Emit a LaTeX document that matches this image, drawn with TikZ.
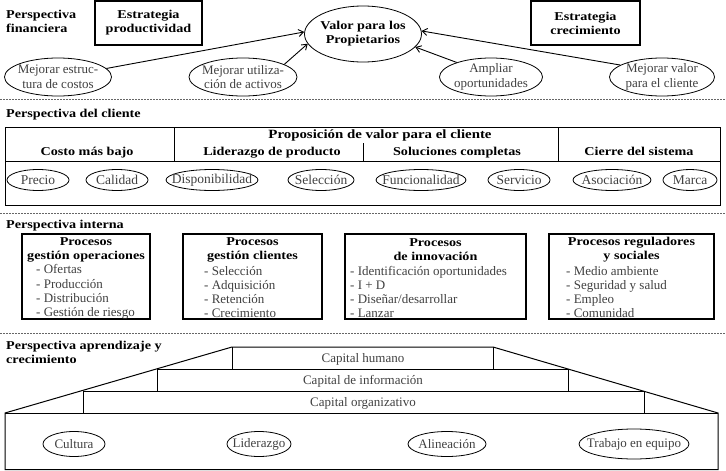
\documentclass[tikz,border=0pt]{standalone}
\usepackage{fontspec}
\setmainfont{Liberation Serif}[BoldFeatures={FakeStretch=1.18}]
\usetikzlibrary{shapes.geometric,arrows.meta}
\tikzset{
 ttl/.style={font=\fontsize{12}{14}\selectfont\bfseries, inner sep=0pt, align=center},
 btl/.style={ttl, anchor=base},
 hdr/.style={ttl, anchor=west, align=left},
 txt/.style={font=\fontsize{13}{14.5}\selectfont, text=black!75, inner sep=0pt, align=center},
 btxt/.style={txt, anchor=base},
 ctxt/.style={font=\fontsize{13.5}{14.5}\selectfont, text=black!75, inner sep=0pt, align=center},
 lst/.style={font=\fontsize{13}{14.2}\selectfont, text=black!75, inner sep=0pt, align=left, anchor=west},
 ell/.style={ellipse, draw, line width=0.8pt, inner sep=0pt},
 sbox/.style={draw, line width=1.6pt, inner sep=0pt},
 pbox/.style={draw, line width=2pt, inner sep=0pt},
 sepline/.style={line width=0.8pt, black!60, dash pattern=on 1.6pt off 1.4pt},
 arr/.style={-{Straight Barb[length=5pt,width=7pt]}, line width=0.9pt},
 frame/.style={line width=1pt},
}
\begin{document}
\begin{tikzpicture}[x=1pt,y=-1pt]
\useasboundingbox (0,0) rectangle (726,471);
% separators
\draw[sepline] (0,99) -- (726,99);
\draw[sepline] (0,213) -- (726,213);
\draw[sepline] (0,333) -- (726,333);

% ---------- Financial perspective
\node[hdr] (hfin) at (6,21) {Perspectiva\\financiera};
\node[sbox, ttl, minimum width=107, minimum height=44] (ep) at (148.5,23) {Estrategia\\productividad};
\node[sbox, ttl, minimum width=109, minimum height=44] (ec) at (585.5,23) {Estrategia\\crecimiento};
\node[ell, minimum width=117, minimum height=56, label={[ttl]center:Valor para los\\Propietarios}] (valor) at (363,34) {};
\node[ell, minimum width=107, minimum height=38, label={[txt]center:Mejorar estruc-\\tura de costos}] (mec) at (58,77) {};
\node[ell, minimum width=108, minimum height=38, label={[txt]center:Mejorar utiliza-\\ción de activos}] (mua) at (243,77) {};
\node[ell, minimum width=103, minimum height=38, label={[txt]center:Ampliar\\oportunidades}] (ao) at (491,77) {};
\node[ell, minimum width=105, minimum height=38, label={[txt]center:Mejorar valor\\para el cliente}] (mvc) at (662,77) {};
\draw[arr] (mec.10) -- (valor.178);
\draw[arr] (mua.17) -- (valor.190);
\draw[arr] (ao.157) -- (valor.346);
\draw[arr] (mvc.164) -- (valor.3);

% ---------- Customer perspective
\node[hdr] (hcli) at (6,115) {Perspectiva del cliente};
\draw[frame] (5,127) rectangle (720,205);
\draw[frame] (5,161) -- (720,161);
\draw[frame] (174,127) -- (174,161);
\draw[frame] (558,127) -- (558,161);
\draw[frame] (363,143) -- (363,161);
\node[btl, font=\fontsize{12.6}{14}\selectfont\bfseries] (prop) at (380,138) {Proposición de valor para el cliente};
\node[btl] (costo) at (87,155) {Costo más bajo};
\node[btl] (lider) at (272,155) {Liderazgo de producto};
\node[btl] (soluc) at (457,155) {Soluciones completas};
\node[btl] (cierre) at (639,155) {Cierre del sistema};
\node[ell, minimum width=62, minimum height=21, label={[ctxt]center:Precio}] (e1) at (38,180) {};
\node[ell, minimum width=62, minimum height=21, label={[ctxt]center:Calidad}] (e2) at (117,180) {};
\node[ell, minimum width=92, minimum height=21, label={[ctxt]center:Disponibilidad}] (e3) at (212,180) {};
\node[ell, minimum width=66, minimum height=21, label={[ctxt]center:Selección}] (e4) at (321,180) {};
\node[ell, minimum width=90, minimum height=21, label={[ctxt]center:Funcionalidad}] (e5) at (421,180) {};
\node[ell, minimum width=62, minimum height=21, label={[ctxt]center:Servicio}] (e6) at (519,180) {};
\node[ell, minimum width=78, minimum height=21, label={[ctxt]center:Asociación}] (e7) at (612,180) {};
\node[ell, minimum width=54, minimum height=21, label={[ctxt]center:Marca}] (e8) at (690,180) {};

% ---------- Internal perspective
\node[hdr] (hint) at (6,226) {Perspectiva interna};
\node[pbox, minimum width=128, minimum height=85] (p1) at (86,276.5) {};
\node[pbox, minimum width=139, minimum height=85] (p2) at (252.5,276.5) {};
\node[pbox, minimum width=181, minimum height=85] (p3) at (435.5,276.5) {};
\node[pbox, minimum width=165, minimum height=85] (p4) at (631.5,276.5) {};
\node[ttl] (p1t) at (86,250) {Procesos\\gestión operaciones};
\node[ttl] (p2t) at (252.5,250) {Procesos\\gestión clientes};
\node[ttl] (p3t) at (435.5,250) {Procesos\\de innovación};
\node[ttl] (p4t) at (631.5,250) {Procesos reguladores\\y sociales};
\node[lst] (p1l) at (36,292) {- Ofertas\\- Producción\\- Distribución\\- Gestión de riesgo};
\node[lst] (p2l) at (204,292) {- Selección\\- Adquisición\\- Retención\\- Crecimiento};
\node[lst] (p3l) at (350,292) {- Identificación oportunidades\\- I + D\\- Diseñar/desarrollar\\- Lanzar};
\node[lst] (p4l) at (566,292) {- Medio ambiente\\- Seguridad y salud\\- Empleo\\- Comunidad};

% ---------- Learning and growth perspective
\node[hdr] (hapr) at (6,352) {Perspectiva aprendizaje y\\crecimiento};
\draw[frame] (5,469.5) -- (5,413) -- (232,347) -- (493,347) -- (718,413) -- (718,469.5) -- cycle;
\draw[frame] (157,369) -- (568,369);
\draw[frame] (83,391) -- (644,391);
\draw[frame] (5,413) -- (718,413);
\draw[frame] (232,347) -- (232,369);
\draw[frame] (157,369) -- (157,391);
\draw[frame] (83,391) -- (83,413);
\draw[frame] (493,347) -- (493,369);
\draw[frame] (568,369) -- (568,391);
\draw[frame] (644,391) -- (644,413);
\node[btxt] (ch) at (363,362.5) {Capital humano};
\node[btxt] (ci) at (363,384.5) {Capital de información};
\node[btxt] (co) at (363,406.5) {Capital organizativo};
\node[ell, minimum width=62, minimum height=25, label={[txt]center:Cultura}] (l1) at (74,444) {};
\node[ell, minimum width=64, minimum height=25, label={[txt]center:Liderazgo}] (l2) at (259,444) {};
\node[ell, minimum width=78, minimum height=25, label={[txt]center:Alineación}] (l3) at (447,444) {};
\node[ell, minimum width=110, minimum height=30, label={[txt]center:Trabajo en equipo}] (l4) at (634,444) {};
\end{tikzpicture}
\end{document}
